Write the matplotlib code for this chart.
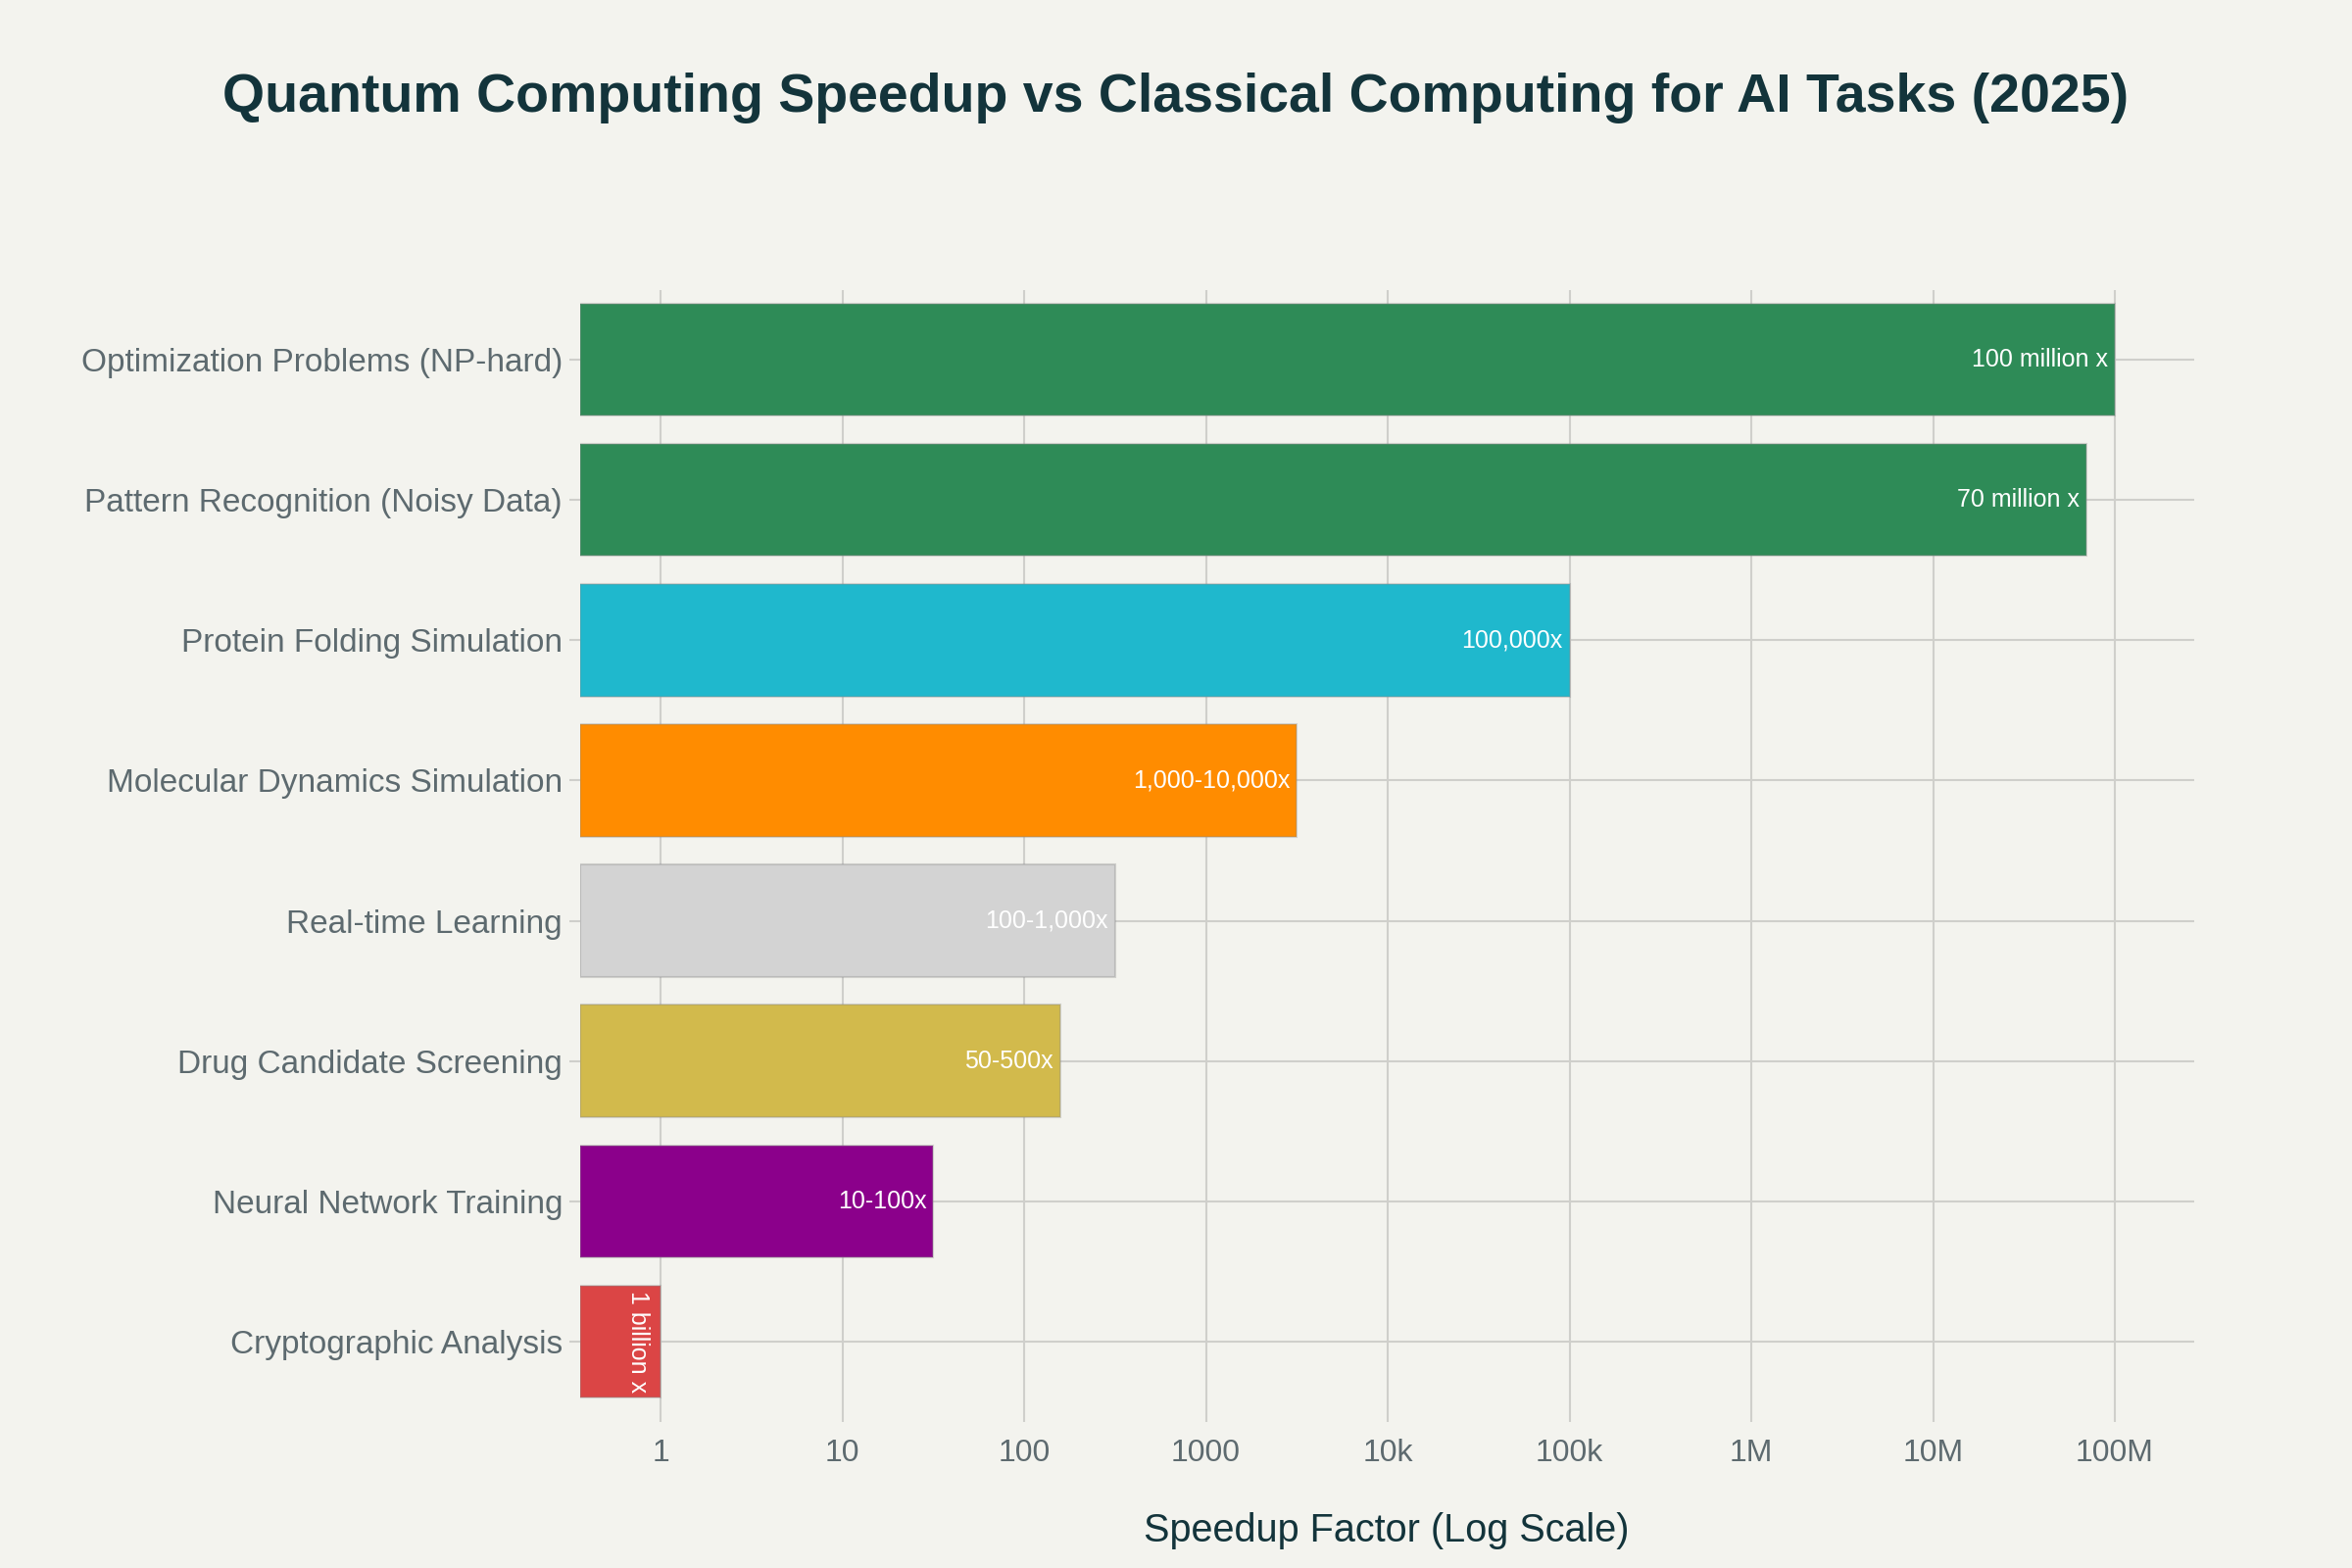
import matplotlib
matplotlib.use("Agg")
import matplotlib.pyplot as plt
import numpy as np

plt.rcParams['font.family'] = ['Liberation Sans', 'DejaVu Sans']

categories = [
    "Optimization Problems (NP-hard)",
    "Pattern Recognition (Noisy Data)",
    "Protein Folding Simulation",
    "Molecular Dynamics Simulation",
    "Real-time Learning",
    "Drug Candidate Screening",
    "Neural Network Training",
    "Cryptographic Analysis",
]
speedup = [1e8, 7e7, 1e5, 3162, 316, 158, 31.6, 1]
bar_labels = [
    "100 million x",
    "70 million x",
    "100,000x",
    "1,000-10,000x",
    "100-1,000x",
    "50-500x",
    "10-100x",
    "1 billion x",
]
colors = ["#2E8B57", "#2E8B57", "#1FB8CD", "#FF8C00", "#D3D3D3", "#D2BA4C", "#8B008B", "#DB4545"]
tick_vals = [1, 10, 100, 1000, 1e4, 1e5, 1e6, 1e7, 1e8]
tick_text = ["1", "10", "100", "1000", "10k", "100k", "1M", "10M", "100M"]

BG = "#F3F3EE"
DARK = "#13343B"
GRAY = "#5D6A6F"
GRID = "#CFCFCB"

fig = plt.figure(figsize=(24, 16), dpi=100, facecolor=BG)
ax = fig.add_axes([0.2467, 0.0997, 0.9329 - 0.2467, 0.8153 - 0.0997])
ax.set_facecolor(BG)

xmin, xmax = 0.361, 2.73e8
ax.set_xscale("log")
ax.set_xlim(xmin, xmax)
y = np.arange(len(categories))
ax.set_ylim(len(categories) - 0.5, -0.5)

ax.barh(y, [v - xmin for v in speedup], left=xmin, height=0.8, color=colors,
        edgecolor=(0.55, 0.55, 0.55, 0.35), linewidth=1.5, zorder=2)

for i, (v, lab) in enumerate(zip(speedup, bar_labels)):
    if i == len(categories) - 1:
        ax.annotate(lab, xy=(v, i), xytext=(-23, 0), textcoords="offset pixels",
                    ha="center", va="center", rotation=-90, color="white",
                    fontsize=18, zorder=3)
    else:
        ax.annotate(lab, xy=(v, i), xytext=(-7, 0), textcoords="offset pixels",
                    ha="right", va="center", color="white", fontsize=18, zorder=3)

ax.set_xticks(tick_vals)
ax.set_xticklabels(tick_text)
ax.xaxis.set_minor_locator(matplotlib.ticker.NullLocator())
ax.set_yticks(y)
ax.set_yticklabels(categories)

ax.tick_params(axis="x", colors=GRID, labelcolor=GRAY, labelsize=23, length=8, width=1.5, pad=12)
ax.tick_params(axis="y", colors=GRID, labelcolor=GRAY, labelsize=24, length=8, width=1.5, pad=5)

ax.grid(True, color=GRID, linewidth=1.5, zorder=0)
ax.set_axisbelow(True)
for s in ax.spines.values():
    s.set_visible(False)

fig.text(0.5, 0.929, "Quantum Computing Speedup vs Classical Computing for AI Tasks (2025)",
         ha="center", va="baseline", fontsize=40, fontweight="bold", color=DARK)
fig.text(0.5896, 0.0169, "Speedup Factor (Log Scale)", ha="center", va="baseline",
         fontsize=28.5, color=DARK)

fig.savefig("out.png", dpi=100, facecolor=BG)
